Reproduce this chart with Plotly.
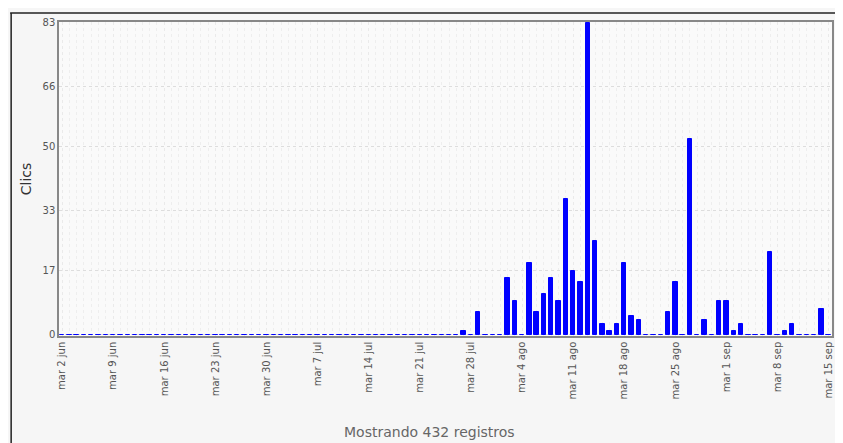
import pandas as pd
import plotly.graph_objects as go

# Daily clicks, 2 Jun 2009 - 15 Sep 2009 (non-zero days listed, rest zero)
start_date = "2009-06-02"
end_date = "2009-09-15"
nonzero_dates = ["2009-07-27", "2009-07-29", "2009-08-02", "2009-08-03", "2009-08-05",
                 "2009-08-06", "2009-08-07", "2009-08-08", "2009-08-09", "2009-08-10",
                 "2009-08-11", "2009-08-12", "2009-08-13", "2009-08-14", "2009-08-15",
                 "2009-08-16", "2009-08-17", "2009-08-18", "2009-08-19", "2009-08-20",
                 "2009-08-24", "2009-08-25", "2009-08-27", "2009-08-29", "2009-08-31",
                 "2009-09-01", "2009-09-02", "2009-09-03", "2009-09-07", "2009-09-09",
                 "2009-09-10", "2009-09-14"]
nonzero_values = [1, 6, 15, 9, 19, 6, 11, 15, 9, 36, 17, 14, 83, 25, 3, 1, 3, 19, 5, 4,
                  6, 14, 52, 4, 9, 9, 1, 3, 22, 1, 3, 7]
tick_dates = ["2009-06-02", "2009-06-09", "2009-06-16", "2009-06-23", "2009-06-30",
              "2009-07-07", "2009-07-14", "2009-07-21", "2009-07-28", "2009-08-04",
              "2009-08-11", "2009-08-18", "2009-08-25", "2009-09-01", "2009-09-08",
              "2009-09-15"]
tick_labels = ["mar 2 jun", "mar 9 jun", "mar 16 jun", "mar 23 jun", "mar 30 jun",
               "mar 7 jul", "mar 14 jul", "mar 21 jul", "mar 28 jul", "mar 4 ago",
               "mar 11 ago", "mar 18 ago", "mar 25 ago", "mar 1 sep", "mar 8 sep",
               "mar 15 sep"]
y_ticks = [0, 17, 33, 50, 66, 83]
y_title = "Clics"
footer = "Mostrando 432 registros"

days = pd.date_range(start_date, end_date, freq="D")
vals = pd.Series(0, index=days)
vals[pd.to_datetime(nonzero_dates)] = nonzero_values

fig = go.Figure(go.Bar(
    x=days, y=vals.values,
    width=0.6 * 86400000,
    marker=dict(color="#0000ff", line=dict(color="#0000ff", width=1)),
    hoverinfo="x+y",
))

fig.update_layout(
    width=827, height=435,
    margin=dict(l=51, r=1, t=14, b=107),
    paper_bgcolor="#f6f6f6",
    plot_bgcolor="#fafafa",
    font=dict(family="DejaVu Sans", color="#555555", size=10),
    showlegend=False,
    bargap=0,
    xaxis=dict(
        type="date",
        range=[pd.Timestamp(start_date) - pd.Timedelta(hours=10),
               pd.Timestamp(end_date) + pd.Timedelta(hours=11)],
        tickvals=tick_dates, ticktext=tick_labels, tickangle=-90,
        tickfont=dict(size=10, color="#555555"),
        showgrid=True, gridcolor="#eaeaea", griddash="dot", gridwidth=1,
        minor=dict(dtick=86400000, showgrid=True, gridcolor="#eeeeee", griddash="dot", gridwidth=1),
        showline=True, linecolor="#888888", linewidth=1.5, mirror=True,
        ticks="", zeroline=False, fixedrange=True,
    ),
    yaxis=dict(
        range=[-0.3, 83.2],
        tickvals=y_ticks, ticktext=[str(v) for v in y_ticks],
        tickfont=dict(size=10, color="#555555"),
        showgrid=True, gridcolor="#dddddd", griddash="dot", gridwidth=1,
        showline=True, linecolor="#888888", linewidth=1.5, mirror=True,
        ticks="", zeroline=False,
        title=dict(text=y_title, font=dict(size=14, color="#333333"), standoff=8),
    ),
    shapes=[
        dict(type="line", xref="paper", yref="paper", x0=-0.0632, x1=1.01, y0=1.0287, y1=1.0287,
             line=dict(color="#222222", width=1.5)),
        dict(type="line", xref="paper", yref="paper", x0=-0.0619, x1=-0.0619, y0=1.0287, y1=-0.341,
             line=dict(color="#222222", width=1.5)),
    ],
    annotations=[
        dict(text=footer, xref="paper", yref="paper", x=0.479, y=-0.306,
             xanchor="center", yanchor="middle", showarrow=False,
             font=dict(size=14, color="#666666")),
    ],
)

fig.write_html("out.html")
